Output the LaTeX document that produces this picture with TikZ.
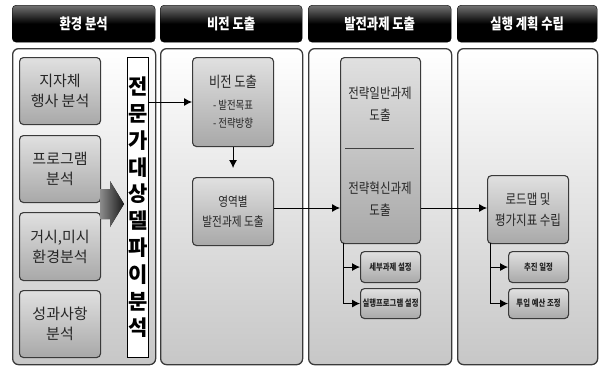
\documentclass[tikz,border=0pt]{standalone}
\usepackage{fontspec}
\setmainfont{Noto Sans CJK KR}
\newfontfamily\kc[FakeStretch=0.82]{Noto Sans CJK KR}
\usetikzlibrary{arrows.meta}
\definecolor{edge}{HTML}{3A3A3A}
\tikzset{
  hdr/.style={anchor=north west, rounded corners=4pt, draw=black, top color=black!55, bottom color=black, middle color=black,
    text=white, font=\kc\bfseries\fontsize{15}{16}\selectfont, minimum height=37pt},
  panel/.style={anchor=north west, rounded corners=6pt, draw=edge, line width=1.3pt, top color=white, bottom color=black!22, minimum height=316pt},
  gbox/.style={anchor=north west, rounded corners=4pt, draw=edge, line width=1.1pt, top color=black!12, bottom color=black!34, align=center, text=black!85, inner sep=1pt},
  sbox/.style={gbox, minimum width=60pt, minimum height=31pt, font=\kc\bfseries\fontsize{9}{11}\selectfont},
  conn/.style={line width=0.9pt, black, -{Latex[length=8pt,width=8pt]}},
  branch/.style={line width=0.9pt, black},
}
\begin{document}
\begin{tikzpicture}[x=1pt,y=-1pt]
\useasboundingbox (0,0) rectangle (599,367);
% headers
\node[hdr, minimum width=143pt] (h1) at (12,5) {환경 분석};
\node[hdr, minimum width=142pt] (h2) at (160,5) {비전 도출};
\node[hdr, minimum width=143pt] (h3) at (308,5) {발전과제 도출};
\node[hdr, minimum width=140pt] (h4) at (457,5) {실행 계획 수립};
% panels
\node[panel, minimum width=143pt] (p1) at (12,48) {};
\node[panel, minimum width=142pt] (p2) at (160,48) {};
\node[panel, minimum width=143pt] (p3) at (308,48) {};
\node[panel, minimum width=140pt] (p4) at (457,48) {};
% column 1
\tikzset{c1/.style={gbox, minimum width=81pt, minimum height=67pt, font=\fontsize{15}{20}\selectfont}}
\node[c1] (a1) at (19,57) {지자체\\행사 분석};
\node[c1] (a2) at (19,135) {프로그램\\분석};
\node[c1, minimum height=68pt] (a3) at (19,212) {거시,미시\\환경분석};
\node[c1] (a4) at (19,290) {성과사항\\분석};
\fill[left color=black!45, right color=black!90] (100,189) -- (110,189) -- (110,181) -- (124,204) -- (110,227) -- (110,219) -- (100,219) -- cycle;
\node[anchor=north west, draw=black, line width=0.9pt, fill=white, minimum width=21pt, minimum height=300pt, inner sep=0pt, align=center,
  font=\bfseries\fontsize{21}{26.8}\selectfont] (v) at (127,57)
  {전\\문\\가\\대\\상\\델\\파\\이\\분\\석};
% column 2
\node[gbox, minimum width=81pt, minimum height=89pt, font=\kc\fontsize{11.5}{18}\selectfont] (b1) at (192,57)
  {{\fontsize{15}{18}\selectfont 비전 도출}\\[4pt]- 발전목표\\- 전략방향};
\node[gbox, minimum width=81pt, minimum height=68pt, font=\kc\fontsize{13}{20}\selectfont] (b2) at (192,177) {영역별\\발전과제 도출};
% column 3
\node[gbox, minimum width=80pt, minimum height=186pt] (c) at (340,57) {};
\node[font=\kc\fontsize{14}{22}\selectfont, align=center, text=black!85] (c1t) at (380,104) {전략일반과제\\도출};
\node[font=\kc\fontsize{14}{22}\selectfont, align=center, text=black!85] (c2t) at (380,199) {전략혁신과제\\도출};
\coordinate (cl1) at (345,148);
\coordinate (cl2) at (414,148);
\draw[line width=0.9pt, black!75] (cl1) -- (cl2);
\node[sbox] (c3) at (360,251) {세부과제 설정};
\node[sbox, minimum height=30pt] (c4) at (360,288) {실행프로그램 설정};
% column 4
\node[gbox, minimum width=81pt, minimum height=68pt, font=\kc\fontsize{14}{21}\selectfont] (d1) at (487,175) {로드맵 및\\평가지표 수립};
\node[sbox] (d2) at (508,251) {추진 일정};
\node[sbox, minimum height=30pt] (d3) at (508,288) {투입 예산 조정};
% connectors
\coordinate (vo) at (148,102);
\draw[conn] (vo) -- (vo -| b1.west);
\draw[conn, shorten >=9pt] (b1.south) -- (b2.north);
\draw[conn] (b2.east |- 0,208) -- (c.west |- 0,208);
\draw[conn] (c.east |- 0,208) -- (d1.west |- 0,208);
\coordinate (cb) at (343,243);
\coordinate (db) at (490,243);
\draw[branch] (cb) -- (cb |- c4.west);
\draw[conn] (cb |- c3.west) -- (c3.west);
\draw[conn] (cb |- c4.west) -- (c4.west);
\draw[branch] (db) -- (db |- d3.west);
\draw[conn] (db |- d2.west) -- (d2.west);
\draw[conn] (db |- d3.west) -- (d3.west);
\end{tikzpicture}
\end{document}
